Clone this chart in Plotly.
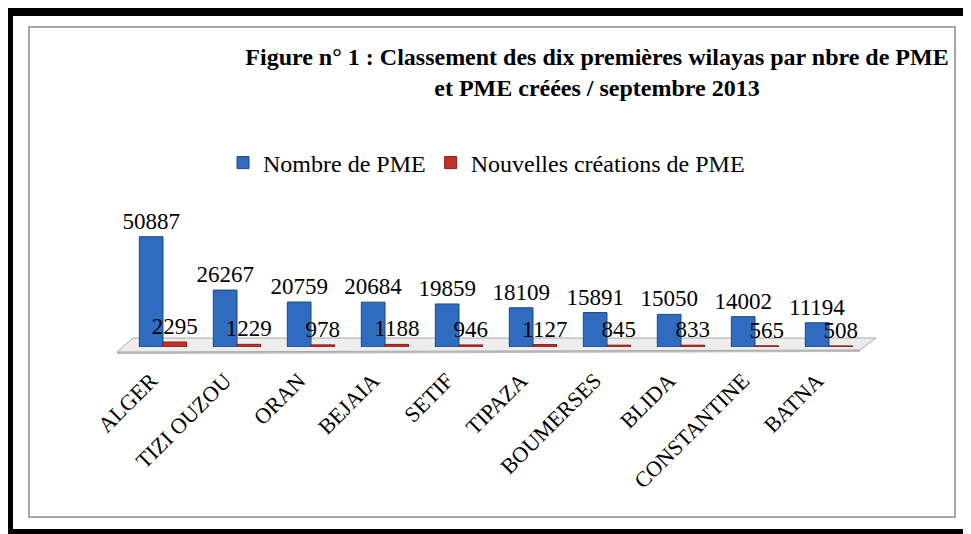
import plotly.graph_objects as go

categories = ["ALGER", "TIZI OUZOU", "ORAN", "BEJAIA", "SETIF", "TIPAZA",
              "BOUMERSES", "BLIDA", "CONSTANTINE", "BATNA"]
nombre_pme = [50887, 26267, 20759, 20684, 19859, 18109, 15891, 15050, 14002, 11194]
nouvelles_pme = [2295, 1229, 978, 1188, 946, 1127, 845, 833, 565, 508]

series_names = ["Nombre de PME", "Nouvelles créations de PME"]
title_text = ("<b>Figure n° 1 : Classement des dix premières wilayas par nbre de PME"
              "<br>et PME créées / septembre 2013</b>")

# the page body adds an 8px margin; work in screen coords and shift back
OFF = 8
W, H = 971 - OFF, 534 - OFF
L, R, T, B = 126 - OFF, 866 - OFF, 217 - OFF, 347 - OFF
FONT = "Liberation Serif"


def px(x, y):
    x, y = x - OFF, y - OFF
    return (x - L) / (R - L), (B - y) / (B - T)


def rect(x0, y0, x1, y1, **kw):
    a = px(x0, y1)
    b = px(x1, y0)
    return dict(type="rect", xref="paper", yref="paper",
                x0=a[0], y0=a[1], x1=b[0], y1=b[1], **kw)


def poly(points, **kw):
    pts = [px(x, y) for x, y in points]
    path = "M " + " L ".join(f"{u},{v}" for u, v in pts) + " Z"
    return dict(type="path", xref="paper", yref="paper", path=path, **kw)


fig = go.Figure()
fig.add_trace(go.Bar(
    x=categories, y=nombre_pme, name=series_names[0],
    marker=dict(color="#2F6CBF", line=dict(color="#1D4880", width=1)),
    text=nombre_pme, textposition="outside", constraintext="none",
    textfont=dict(family=FONT, size=23, color="black"), cliponaxis=False,
))
fig.add_trace(go.Bar(
    x=categories, y=nouvelles_pme, name=series_names[1],
    marker=dict(color="#C0302A", line=dict(color="#8A1E1A", width=1)),
    text=nouvelles_pme, textposition="outside", constraintext="none",
    textfont=dict(family=FONT, size=23, color="black"), cliponaxis=False,
))

shapes = [
    # floor slab
    poly([(117, 354), (860, 352), (860, 350), (117, 352)],
         fillcolor="#BDBDBD", line=dict(width=0), layer="below"),
    poly([(117, 352), (860, 350), (876, 338), (133, 338)],
         fillcolor="#EDEDED", line=dict(color="#A8A8A8", width=1), layer="below"),
    # inner gray frame
    rect(29, 27, 955, 517, line=dict(color="#A6A6A6", width=2), fillcolor="rgba(0,0,0,0)",
         layer="below"),
    # black outer frame bands
    rect(6, 8, 971, 16, fillcolor="black", line=dict(width=0)),
    rect(6, 8, 13, 534, fillcolor="black", line=dict(width=0)),
    rect(6, 529, 971, 534, fillcolor="black", line=dict(width=0)),
]

lx, ly = px(223, 163)

fig.update_layout(
    width=W, height=H,
    margin=dict(l=L, r=W - R, t=T, b=H - B, autoexpand=False),
    paper_bgcolor="white", plot_bgcolor="rgba(0,0,0,0)",
    barmode="group", bargap=0.36, bargroupgap=0.0,
    title=dict(text=title_text, x=(597 - OFF) / W, xanchor="center", xref="container",
               y=1 - (65 - OFF) / H, yanchor="middle", yref="container",
               font=dict(family=FONT, size=24, color="black")),
    legend=dict(orientation="h", x=lx, y=ly, xanchor="left", yanchor="middle",
                font=dict(family=FONT, size=24, color="black"),
                bgcolor="rgba(0,0,0,0)", itemwidth=30),
    xaxis=dict(tickangle=-45, tickfont=dict(family=FONT, size=22, color="black"),
               showline=False, showgrid=False, ticks="outside", ticklen=11,
               tickcolor="rgba(0,0,0,0)", ticklabelshift=-12),
    yaxis=dict(range=[0, 60000], visible=False, showgrid=False, zeroline=False),
    shapes=shapes,
    showlegend=True,
)

fig.write_html("out.html")
